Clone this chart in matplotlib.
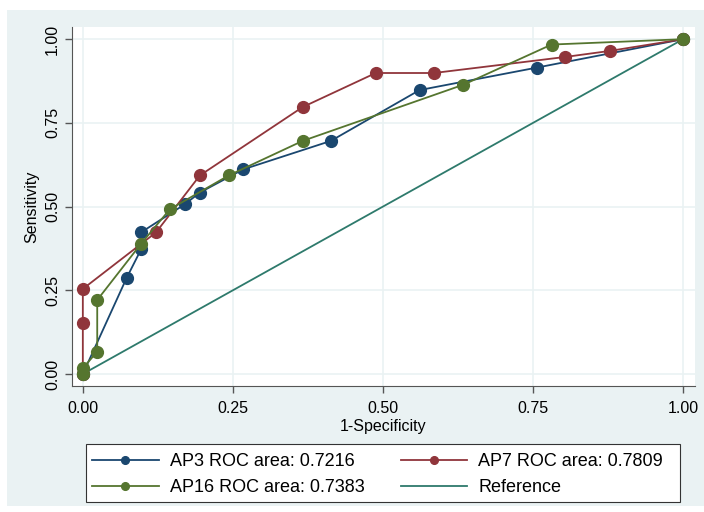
import matplotlib.pyplot as plt
from matplotlib.patches import Rectangle

plt.rcParams['font.family'] = ['Liberation Sans', 'DejaVu Sans']

# ROC points
ap3_x = [0.0, 0.073, 0.097, 0.097, 0.17, 0.195, 0.267, 0.413, 0.561, 0.756, 1.0]
ap3_y = [0.0, 0.287, 0.372, 0.423, 0.507, 0.542, 0.611, 0.696, 0.848, 0.915, 1.0]

ap7_x = [0.0, 0.0, 0.0, 0.122, 0.195, 0.366, 0.488, 0.585, 0.804, 0.878, 1.0]
ap7_y = [0.0, 0.151, 0.254, 0.423, 0.593, 0.797, 0.899, 0.899, 0.947, 0.965, 1.0]

ap16_x = [0.0, 0.0, 0.024, 0.024, 0.097, 0.145, 0.243, 0.366, 0.634, 0.781, 1.0]
ap16_y = [0.0, 0.017, 0.067, 0.221, 0.389, 0.492, 0.593, 0.696, 0.864, 0.984, 1.0]

ref_x = [0.0, 1.0]
ref_y = [0.0, 1.0]

labels = ["AP3 ROC area: 0.7216", "AP7 ROC area: 0.7809",
          "AP16 ROC area: 0.7383", "Reference"]
ticks = [0.0, 0.25, 0.5, 0.75, 1.0]

bg = "#eaf2f3"
c_ap3 = "#1a476f"
c_ap7 = "#90353b"
c_ap16 = "#55752f"
c_ref = "#2e7a6c"

W, H = 704, 512
fig = plt.figure(figsize=(7.04, 5.12), dpi=100, facecolor="white")

# graph region background (the picture is cropped with a thin white margin)
fig.patches.append(Rectangle((7 / W, 1 - 506 / H), (W - 7) / W, 496 / H,
                             transform=fig.transFigure, facecolor=bg,
                             edgecolor="none", zorder=-1))

ax = fig.add_axes([0.1023, 0.246, 0.885, 0.701])
ax.set_facecolor("white")

ms = 8.5
lw = 1.3
h3, = ax.plot(ap3_x, ap3_y, color=c_ap3, lw=lw, marker="o", ms=ms, zorder=3)
h7, = ax.plot(ap7_x, ap7_y, color=c_ap7, lw=lw, marker="o", ms=ms, zorder=3)
h16, = ax.plot(ap16_x, ap16_y, color=c_ap16, lw=lw, marker="o", ms=ms, zorder=3)
hr, = ax.plot(ref_x, ref_y, color=c_ref, lw=lw, zorder=2)

ax.set_xlim(-0.018, 1.02)
ax.set_ylim(-0.036, 1.036)
ax.set_xticks(ticks)
ax.set_yticks(ticks)
ax.set_xticklabels(["%.2f" % t for t in ticks])
ax.set_yticklabels(["%.2f" % t for t in ticks], rotation=90, va="center")
ax.tick_params(labelsize=11.5, length=5, width=1, color="#555555")
ax.tick_params(axis="x", pad=6)
ax.grid(True, color=bg, lw=1.2, zorder=0)
for s in ["top", "right"]:
    ax.spines[s].set_visible(False)
for s in ["left", "bottom"]:
    ax.spines[s].set_color("#555555")
ax.set_xlabel("1-Specificity", fontsize=11.5, labelpad=2)
ax.set_ylabel("Sensitivity", fontsize=11.5, labelpad=4)

# legend box drawn separately so the entries sit left like in the original
fig.patches.append(Rectangle((86 / W, 1 - 502 / H), 594 / W, 58 / H,
                             transform=fig.transFigure, facecolor="white",
                             edgecolor="#333333", lw=0.8, zorder=0))

# column-wise fill: AP3 / AP16 in first column, AP7 / Reference in second
leg = fig.legend([h3, h16, h7, hr], [labels[0], labels[2], labels[1], labels[3]],
                 ncol=2, loc="upper left", bbox_to_anchor=(92 / W, 1 - 453 / H),
                 fontsize=13, frameon=False, handlelength=3.7,
                 handletextpad=0.6, markerscale=0.65, borderpad=0,
                 labelspacing=0.5, borderaxespad=0, columnspacing=2.0)

fig.savefig("out.png", dpi=100, facecolor="white")
